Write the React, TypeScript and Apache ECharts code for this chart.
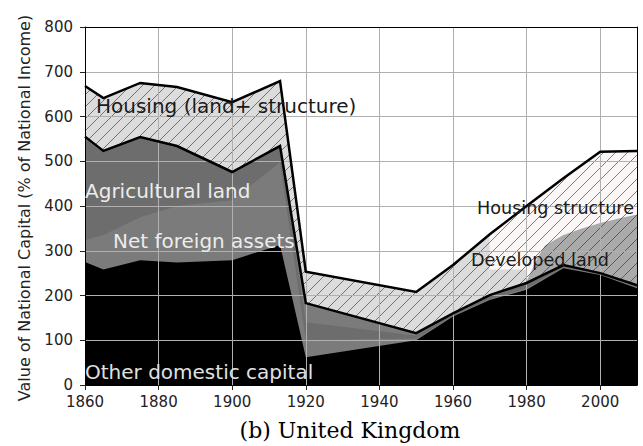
import React, { useEffect, useRef } from "react";
import * as echarts from "echarts";

// ---- data (values in % of national income) ----
const years = [1860, 1865, 1875, 1885, 1900, 1913, 1920, 1950, 1960, 1970, 1980, 1990, 2000, 2010];
const totalCapital = [668, 641, 675, 666, 632, 679, 253, 208, 268, 337, 400, 462, 521, 523];
const belowHousing = [555, 523, 554, 534, 476, 534, 183, 116, 160, 201, 228, 268, 250, 223];
const agriculturalTop = [555, 523, 554, 534, 476, 534, 140, 110, 157, 197, 224, 265, 248, 220];
const foreignTop = [324, 335, 375, 400, 413, 498, 100, 104, 155, 193, 216, 263, 249, 219];
const otherDomestic = [275, 258, 279, 274, 279, 313, 62, 100, 153, 190, 213, 261, 246, 216];
const devLightYears = [1970, 1980];
const devLightTop = [258, 258];
const devYears = [1980, 1983, 1985, 1990, 1995, 2000, 2005, 2010];
const devTop = [232, 285, 312, 335, 350, 362, 372, 381];
const xTicks = [1860, 1880, 1900, 1920, 1940, 1960, 1980, 2000];
const yTicks = [0, 100, 200, 300, 400, 500, 600, 700, 800];

const SPLIT_YEAR = 1970;

function hatch(bg: string) {
  const s = 12;
  const c = document.createElement("canvas");
  c.width = s;
  c.height = s;
  const g = c.getContext("2d")!;
  g.fillStyle = bg;
  g.fillRect(0, 0, s, s);
  g.strokeStyle = "rgba(40,40,40,0.7)";
  g.lineWidth = 0.85;
  g.beginPath();
  g.moveTo(0, s);
  g.lineTo(s, 0);
  g.moveTo(-s / 2, s / 2);
  g.lineTo(s / 2, -s / 2);
  g.moveTo(s / 2, s * 1.5);
  g.lineTo(s * 1.5, s / 2);
  g.stroke();
  return { image: c, repeat: "repeat", imageWidth: s, imageHeight: s } as any;
}

function pairs(xs: number[], ys: number[]) {
  return xs.map((x, i) => [x, ys[i]]);
}

function area(name: string, xs: number[], ys: number[], fill: any) {
  return {
    type: "line",
    name,
    data: pairs(xs, ys),
    showSymbol: false,
    symbol: "none",
    silent: true,
    z: 1,
    lineStyle: { width: 0 },
    areaStyle: { color: fill, opacity: 1, origin: "start" },
  };
}

function outline(name: string, xs: number[], ys: number[]) {
  return {
    type: "line",
    name,
    data: pairs(xs, ys),
    showSymbol: false,
    symbol: "none",
    silent: true,
    z: 5,
    lineStyle: { width: 2.5, color: "#000", join: "miter" },
  };
}

export default function App() {
  const ref = useRef<HTMLDivElement>(null);

  useEffect(() => {
    document.body.style.margin = "0";
    const chart = echarts.init(ref.current!, null, { renderer: "svg" });
    const splitIdx = years.indexOf(SPLIT_YEAR);
    const sans = '"DejaVu Sans", sans-serif';

    const labelText = (text: string, x: number, y: number, size: number, fill: string) => ({
      type: "text",
      x,
      y,
      z: 20,
      silent: true,
      style: {
        text,
        fill,
        font: `${size}px ${sans}`,
        textAlign: "left",
        textVerticalAlign: "middle",
      },
    });

    const option: any = {
      animation: false,
      backgroundColor: "#fff",
      grid: { left: 85, right: 6, top: 27, bottom: 61, containLabel: false },
      xAxis: [
        {
          type: "value",
          min: 1860,
          max: 2010,
          interval: 20,
          z: 3,
          axisLine: { show: true, onZero: false, lineStyle: { color: "#000", width: 1 } },
          axisTick: { show: true, length: 5, lineStyle: { color: "#222" }, customValues: xTicks },
          axisLabel: {
            show: true,
            customValues: xTicks,
            formatter: (v: number) => String(v),
            margin: 9,
            color: "#222",
            fontSize: 15,
            fontFamily: sans,
          },
          splitLine: { show: true, lineStyle: { color: "#b0b0b0", width: 1 } },
        },
        {
          type: "value",
          position: "top",
          min: 1860,
          max: 2010,
          interval: 20,
          z: 3,
          axisLine: { show: true, onZero: false, lineStyle: { color: "#000", width: 1 } },
          axisTick: { show: false },
          axisLabel: { show: false },
          splitLine: { show: false },
        },
      ],
      yAxis: [
        {
          type: "value",
          min: 0,
          max: 800,
          interval: 100,
          z: 3,
          axisLine: { show: true, onZero: false, lineStyle: { color: "#000", width: 1 } },
          axisTick: { show: true, length: 5, lineStyle: { color: "#222" }, customValues: yTicks },
          axisLabel: {
            show: true,
            formatter: (v: number) => String(v),
            margin: 12,
            color: "#222",
            fontSize: 15,
            fontFamily: sans,
          },
          splitLine: { show: true, lineStyle: { color: "#b0b0b0", width: 1 } },
        },
        {
          type: "value",
          position: "right",
          min: 0,
          max: 800,
          interval: 100,
          z: 3,
          axisLine: { show: true, onZero: false, lineStyle: { color: "#000", width: 1 } },
          axisTick: { show: false },
          axisLabel: { show: false },
          splitLine: { show: false },
        },
      ],
      series: [
        area(
          "Housing (land+ structure)",
          years.slice(0, splitIdx + 1),
          totalCapital.slice(0, splitIdx + 1),
          hatch("#dcdcdc")
        ),
        area("Housing structure", years.slice(splitIdx), totalCapital.slice(splitIdx), hatch("#fcf7f7")),
        area("Developed land (early)", devLightYears, devLightTop, hatch("#d9d9d9")),
        area("Developed land", devYears, devTop, hatch("#aaaaaa")),
        area("Other land", years, belowHousing, "#7b7b7b"),
        area("Agricultural land", years, agriculturalTop, "#6d6d6d"),
        area("Net foreign assets", years, foreignTop, "#7b7b7b"),
        area("Other domestic capital", years, otherDomestic, "#000000"),
        outline("Total", years, totalCapital),
        outline("Below housing", years, belowHousing),
      ],
      graphic: [
        labelText("Housing (land+ structure)", 96, 105.5, 20, "#1a1a1a"),
        labelText("Agricultural land", 85, 190.5, 20, "#ececec"),
        labelText("Net foreign assets", 113, 240.5, 20, "#ececec"),
        labelText("Other domestic capital", 85, 372, 20, "#e0e0e0"),
        labelText("Housing structure", 477, 207.5, 17.6, "#1a1a1a"),
        labelText("Developed land", 471, 259.5, 17.6, "#1a1a1a"),
        {
          type: "text",
          x: 24,
          y: 208,
          rotation: Math.PI / 2,
          z: 20,
          silent: true,
          style: {
            text: "Value of National Capital (% of National Income)",
            fill: "#222",
            font: `16px ${sans}`,
            textAlign: "center",
            textVerticalAlign: "middle",
          },
        },
        {
          type: "text",
          x: 350,
          y: 430,
          z: 20,
          silent: true,
          style: {
            text: "(b) United Kingdom",
            fill: "#000",
            font: '22px "DejaVu Serif", serif',
            textAlign: "center",
            textVerticalAlign: "middle",
          },
        },
      ],
    };

    chart.setOption(option);
    return () => chart.dispose();
  }, []);

  return <div ref={ref} style={{ width: 643, height: 446 }} />;
}
